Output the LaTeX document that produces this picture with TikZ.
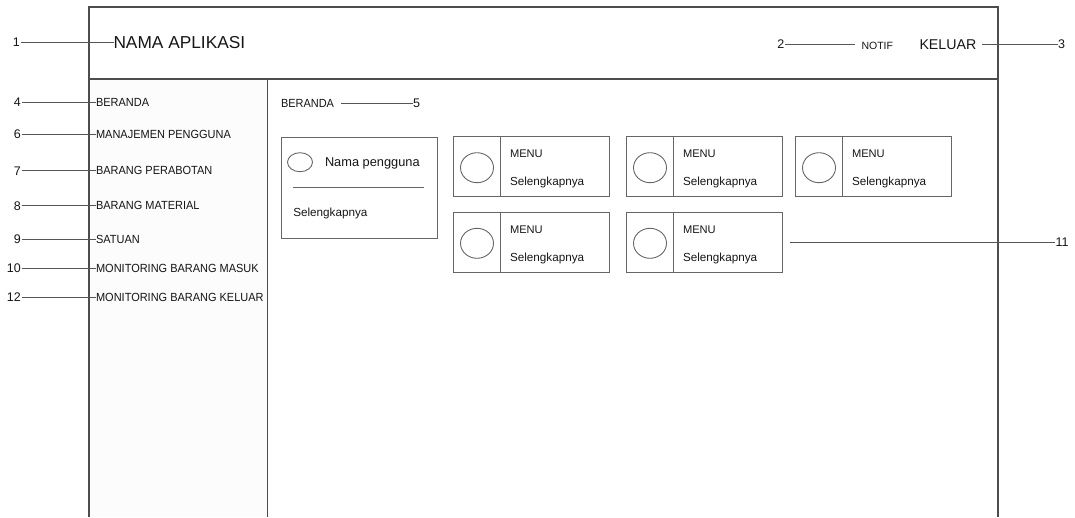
\documentclass[tikz,border=0pt]{standalone}
\usepackage{fontspec}
\setmainfont{Liberation Sans}
\newfontfamily\narrowsans{Liberation Sans}[FakeStretch=0.93]
\definecolor{ink}{HTML}{151515}
\definecolor{framec}{HTML}{4D4D4D}
\definecolor{cardc}{HTML}{666666}
\definecolor{leadc}{HTML}{555555}
\definecolor{sidefill}{HTML}{FCFCFC}
\newcommand\menucard[3]{% name, left x, top y
  \node[card, anchor=north west, minimum width=156.5pt, minimum height=60pt] (#1) at (#2,#3) {};
  \draw[cardline] ([xshift=47.5pt]#1.north west) -- ([xshift=47.5pt]#1.south west);
  \draw[cardline] ([shift={(24pt,-31pt)}]#1.north west) ellipse [x radius=16.5pt, y radius=15pt];
  \node[txt, fsz=11.1, anchor=base west] (#1-t) at ([shift={(57pt,-21pt)}]#1.north west) {MENU};
  \node[txt, fsz=11.7, anchor=base west] (#1-s) at ([shift={(57pt,-48.7pt)}]#1.north west) {Selengkapnya};
}
\begin{document}
\begin{tikzpicture}[x=1pt, y=-1pt,
  fsz/.style={font=\fontsize{#1}{#1}\selectfont},
  nfsz/.style={font=\narrowsans\fontsize{#1}{#1}\selectfont},
  txt/.style={inner sep=0pt, outer sep=0pt, text=ink},
  num/.style={txt, fsz=12.5, anchor=east, inner sep=0.6pt},
  side/.style={txt, nfsz=11.8, anchor=west, inner sep=0.6pt},
  frame/.style={draw=framec, line width=1.2pt},
  card/.style={draw=cardc, line width=1pt, inner sep=0pt, outer sep=0pt},
  cardline/.style={draw=cardc, line width=0.9pt},
  lead/.style={draw=leadc, line width=0.9pt}
]
\useasboundingbox (0,0) rectangle (1075,517);

% window frame, header bar and sidebar
\fill[sidefill] (89,79) rectangle (267.5,517);
\draw[frame] (89,517) -- (89,7) -- (998,7) -- (998,517);
\draw[frame] (89,79) -- (998,79);
\draw[frame] (267.5,79) -- (267.5,517);

% header
\node[txt, fsz=17.3, anchor=west] (app) at (113.5,42.5) {NAMA APLIKASI};
\node[num] (n1) at (20.5,42.5) {1};
\draw[lead] (n1.east) -- (app.west);

\node[txt, fsz=10.5, anchor=west] (notif) at (861.5,45.6) {NOTIF};
\node[txt, fsz=14.2, anchor=west] (logout) at (919.5,44.2) {KELUAR};
\node[num, anchor=east] (n2) at (785,44.3) {2};
\node[num, anchor=west] (n3) at (1057.5,44.3) {3};
\draw[lead] (n2.east) -- ([xshift=-6.5pt]notif.west |- n2.east);
\draw[lead] ([xshift=6pt]logout.east |- n3.west) -- (n3.west);

% sidebar menu
\node[side] (s4) at (95.5,102.3) {BERANDA};
\node[side] (s6) at (95.5,134) {MANAJEMEN PENGGUNA};
\node[side] (s7) at (95.5,170.7) {BARANG PERABOTAN};
\node[side] (s8) at (95.5,205.7) {BARANG MATERIAL};
\node[side] (s9) at (95.5,239.2) {SATUAN};
\node[side] (s10) at (95.5,268.5) {MONITORING BARANG MASUK};
\node[side] (s12) at (95.5,297.5) {MONITORING BARANG KELUAR};
\foreach \k/\yy in {4/102.3, 6/134, 7/170.7, 8/205.7, 9/239.2, 10/268.5, 12/297.5} {
  \node[num] (n\k) at (21.5,\yy) {\k};
  \draw[lead] (n\k.east) -- (s\k.west);
}

% page title
\node[txt, nfsz=11.8, anchor=west] (title) at (281,103) {BERANDA};
\node[num, anchor=west] (n5) at (412.5,103) {5};
\draw[lead] ([xshift=6.7pt]title.east) -- (n5.west);

% user card
\node[card, anchor=north west, minimum width=156pt, minimum height=101pt] (u) at (281,137) {};
\draw[cardline] ([shift={(19pt,-25.2pt)}]u.north west) ellipse [x radius=12.5pt, y radius=9.5pt];
\node[txt, fsz=12.8, anchor=base west] (uname) at ([shift={(44pt,-29.7pt)}]u.north west) {Nama pengguna};
\draw[cardline] ([shift={(12.3pt,-50.7pt)}]u.north west) -- ([shift={(143pt,-50.7pt)}]u.north west);
\node[txt, fsz=11.7, anchor=base west] (umore) at ([shift={(12.3pt,-79pt)}]u.north west) {Selengkapnya};

% menu cards
\menucard{m1}{453}{136.7}
\menucard{m2}{626}{136.7}
\menucard{m3}{795}{136.7}
\menucard{m4}{453}{212.3}
\menucard{m5}{626}{212.3}

\coordinate (c11) at (790,242);
\node[num, anchor=west] (n11) at (1055,242) {11};
\draw[lead] (c11) -- (n11.west);
\end{tikzpicture}
\end{document}
